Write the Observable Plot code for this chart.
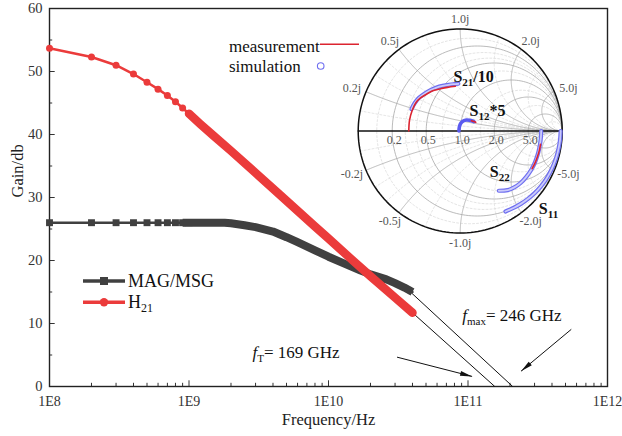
<!DOCTYPE html>
<html><head><meta charset="utf-8">
<script src="https://cdn.jsdelivr.net/npm/d3@7"></script>
<script src="https://cdn.jsdelivr.net/npm/@observablehq/plot@0.6"></script>
<style>
body{margin:0;background:#fff;}
#wrap{position:relative;width:622px;height:436px;overflow:hidden;}
#inset{position:absolute;left:330px;top:8px;}
</style></head>
<body><div id="wrap"><div id="main"></div><div id="inset"></div></div>
<script>
// ---------------- data ----------------
const freqMAG = [1e8,2e8,3e8,4e8,5e8,6e8,7e8,8e8,9e8,1e9,1.2e9,1.5e9,1.8e9,2e9,2.5e9,3e9,4e9,5e9,6e9,8e9,1e10,1.3e10,1.7e10,2e10,2.6e10,3e10,3.5e10,4e10];
const magMSG  = [26.0,26.0,26.0,26.0,26.0,26.0,26.0,26.0,26.0,26.0,26.0,26.0,26.0,25.9,25.6,25.3,24.6,23.7,22.9,21.6,20.6,19.5,18.4,17.8,17.0,16.4,15.7,15.0];
const freqH21 = [1e8,2e8,3e8,4e8,5e8,6e8,7e8,8e8,9e8,1e9,1.2e9,1.5e9,2e9,3e9,4.5e9,6e9,8e9,1e10,1.36e10,2e10,3e10,4e10];
const h21     = [53.7,52.3,51.0,49.6,48.3,47.2,46.2,45.2,44.2,43.3,41.7,39.8,37.4,33.9,30.4,27.9,25.4,23.5,20.8,17.5,14.1,11.7];

// extrapolation lines and arrows (frequency, gain)
const extrapMAG = {f1:3.87e10, v1:15.0, f2:2.09e11, v2:0};
const extrapH21 = {f1:4.02e10, v1:11.67, f2:1.556e11, v2:0};
const arrowFT   = {f1:3.1e10, v1:4.66, f2:1.07e11, v2:1.6};
const arrowFmax = {f1:5.5e11, v1:9.07, f2:2.4e11, v2:2.43};
const annFT     = {f:2.85e9, v:5.4};
const annFmax   = {f:9.1e10, v:11.3};

// axis ticks
const xMajorTicks = [1e8,1e9,1e10,1e11,1e12];
const xMinorMult  = [2,3,4,5,6,7,8,9];
const yMajorTicks = [0,10,20,30,40,50,60];
const yMinorTicks = [5,15,25,35,45,55];

// Smith chart (reflection coefficient, re / im)
const smithRMajor = [0.2,0.5,1,2,5];
const smithXMajor = [0.2,0.5,1,2,5];
const smithRMinor = [0.1,0.3,0.4,0.7,1.5,3,10];
const smithXMinor = [0.1,0.3,0.4,0.7,1.5,3,10];
const smithRLabels = ["0.2","0.5","1.0","2.0","5.0"];
const smithXLabels = ["0.2j","0.5j","1.0j","2.0j","5.0j"];
const smithXLabelsNeg = ["-0.2j","-0.5j","-1.0j","-2.0j","-5.0j"];

const s21Meas = [[-0.504,0],[-0.497,0.103],[-0.471,0.201],[-0.433,0.279],[-0.389,0.324],[-0.324,0.365],[-0.262,0.397],[-0.193,0.414],[-0.125,0.428],[-0.046,0.439]];
const s21Sim  = [[-0.478,0.215],[-0.447,0.272],[-0.404,0.325],[-0.350,0.366],[-0.290,0.401],[-0.231,0.426],[-0.172,0.442],[-0.113,0.453],[-0.063,0.459],[-0.018,0.463]];
const s12Sim  = [[-0.012,0],[-0.008,0.04],[0.006,0.075],[0.03,0.098],[0.06,0.108],[0.09,0.106],[0.12,0.098],[0.135,0.092]];
const s12Meas = [[0.11,0.1],[0.135,0.092],[0.152,0.085]];
const s22Sim  = [[0.794,0],[0.792,-0.05],[0.787,-0.10],[0.775,-0.17],[0.757,-0.24],[0.732,-0.31],[0.697,-0.38],[0.648,-0.45],[0.592,-0.51],[0.530,-0.553],[0.465,-0.58],[0.379,-0.586]];
const s22Meas = [[0.787,-0.13],[0.776,-0.19],[0.758,-0.25],[0.735,-0.31],[0.705,-0.37]];
const s11Sim  = [[0.985,0],[0.979,-0.086],[0.965,-0.170],[0.944,-0.253],[0.915,-0.333],[0.879,-0.410],[0.836,-0.483],[0.785,-0.550],[0.728,-0.611],[0.665,-0.665],[0.598,-0.712],[0.527,-0.752],[0.444,-0.789]];
const smithNames = [
  {re:-0.066, im:0.527, parts:[["S"],["21","sub"],["/10"]]},
  {re:0.091, im:0.201, parts:[["S"],["12","sub"],["*5"]]},
  {re:0.29, im:-0.404, parts:[["S"],["22","sub"]]},
  {re:0.771, im:-0.763, parts:[["S"],["11","sub"]]}
];

// ---------------- styles ----------------
const FONT = "'Liberation Serif','Times New Roman',serif";
const GRAY = "#404040", RED = "#eb3b3b", MRED = "#dc2430", BLUE = "#6f6ff0", LBLUE = "#cbcbfb";
const W = 622, H = 436, ML = 49, MR = 15, MT = 8, MB = 50;

const sx = Plot.scale({x:{type:"log", domain:[1e8,1e12], range:[ML, W-MR]}});
const sy = Plot.scale({y:{domain:[0,60], range:[H-MB, MT]}});
const yMajX2 = sx.invert(ML+5.7), yMinX2 = sx.invert(ML+3.2);
const xMajY2 = sy.invert(H-MB-5.7), xMinY2 = sy.invert(H-MB-3.2);
const xMinorTicks = xMajorTicks.slice(0,-1).flatMap(d => xMinorMult.map(m => d*m));

const magData = freqMAG.map((f,i)=>({f, v:magMSG[i]}));
const h21Data = freqH21.map((f,i)=>({f, v:h21[i]}));
const ang = d => Math.atan2(sx.apply(d.f2)-sx.apply(d.f1), -(sy.apply(d.v2)-sy.apply(d.v1)))*180/Math.PI;

const main = Plot.plot({
  width: W, height: H, marginLeft: ML, marginRight: MR, marginTop: MT, marginBottom: MB,
  x: {type:"log", domain:[1e8,1e12]},
  y: {domain:[0,60]},
  style: {fontFamily: FONT, fontSize: "14px", color: "#333", background: "transparent"},
  marks: [
    Plot.axisX({ticks: xMajorTicks, tickFormat: d => "1E" + Math.round(Math.log10(d)), tickSize: 0, tickPadding: 10, label: null, fontSize: 14}),
    Plot.axisY({ticks: yMajorTicks, tickSize: 0, tickPadding: 7, label: null, fontSize: 14.5}),
    Plot.ruleX(xMajorTicks, {y1: 0, y2: xMajY2, stroke: "#333", strokeWidth: 1}),
    Plot.ruleX(xMinorTicks, {y1: 0, y2: xMinY2, stroke: "#333", strokeWidth: 1}),
    Plot.ruleY(yMajorTicks, {x1: 1e8, x2: yMajX2, stroke: "#333", strokeWidth: 1}),
    Plot.ruleY(yMinorTicks, {x1: 1e8, x2: yMinX2, stroke: "#333", strokeWidth: 1}),
    Plot.frame({stroke: "#222", strokeWidth: 1.4}),
    Plot.text(["Frequency/Hz"], {frameAnchor: "bottom", dy: 38.5, text: d => d, fontSize: 16.5, fill: "#222"}),
    Plot.text(["Gain/db"], {frameAnchor: "left", dx: -32, rotate: -90, text: d => d, fontSize: 16.5, fill: "#222"}),
    // extrapolation lines
    Plot.link([extrapMAG, extrapH21], {x1: "f1", y1: "v1", x2: "f2", y2: "v2", stroke: "#111", strokeWidth: 1}),
    // MAG/MSG
    Plot.line(magData, {x: "f", y: "v", stroke: GRAY, strokeWidth: 2.5}),
    Plot.line(magData.filter(d => d.f >= 9e8), {x: "f", y: "v", stroke: GRAY, strokeWidth: 8, strokeLinecap: "butt", strokeLinejoin: "round"}),
    Plot.dot(magData.filter(d => d.f <= 1e9), {x: "f", y: "v", symbol: "square", r: 3.9, fill: GRAY}),
    // H21
    Plot.line(h21Data, {x: "f", y: "v", stroke: RED, strokeWidth: 2.5}),
    Plot.line(h21Data.filter(d => d.f >= 1e9), {x: "f", y: "v", stroke: RED, strokeWidth: 8.5, strokeLinecap: "round", strokeLinejoin: "round"}),
    Plot.dot(h21Data.filter(d => d.f <= 1e9), {x: "f", y: "v", r: 3.5, fill: RED}),
    // arrows
    Plot.link([arrowFT, arrowFmax], {x1: "f1", y1: "v1", x2: "f2", y2: "v2", stroke: "#111", strokeWidth: 1}),
    Plot.vector([arrowFT, arrowFmax], {x: "f2", y: "v2", rotate: ang, length: 12, r: 2.4, shape: "spike", anchor: "end", fill: "#111", stroke: "none"}),
    // annotations
    Plot.text([annFT], {x: "f", y: "v", text: () => "fT= 169 GHz", textAnchor: "start", fontSize: 17, fill: "#111", ariaDescription: "ann-ft"}),
    Plot.text([annFmax], {x: "f", y: "v", text: () => "fmax= 246 GHz", textAnchor: "start", fontSize: 17, fill: "#111", ariaDescription: "ann-fmax"})
  ]
});
document.getElementById("main").appendChild(main);

function rich(textSel, parts, subSize, subShift) {
  textSel.each(function(){
    const t = d3.select(this); t.text(null);
    let shift = 0;
    parts.forEach(([s, kind]) => {
      const ts = t.append("tspan").text(s);
      if (kind === "i") ts.attr("font-style", "italic");
      const target = kind === "sub" ? subShift : 0;
      if (target !== shift) { ts.attr("dy", target - shift); shift = target; }
      if (kind === "sub") ts.attr("font-size", subSize).attr("font-style", "normal");
    });
  });
}
const msvg = d3.select(main);
rich(msvg.selectAll('g[aria-description="ann-ft"] text'), [["f","i"],["T","sub"],["= 169 GHz"]], 11, 4);
rich(msvg.selectAll('g[aria-description="ann-fmax"] text'), [["f","i"],["max","sub"],["= 246 GHz"]], 11, 4);

// legends
const lg = msvg.append("g").attr("font-family", FONT).attr("fill", "#111").attr("text-anchor", "start");
lg.append("line").attr("x1",83).attr("x2",125).attr("y1",281).attr("y2",281).attr("stroke",GRAY).attr("stroke-width",3.4);
lg.append("rect").attr("x",100).attr("y",277).attr("width",8).attr("height",8).attr("fill",GRAY);
lg.append("text").attr("x",128).attr("y",281).attr("dy","0.35em").attr("font-size",18).text("MAG/MSG");
lg.append("line").attr("x1",83).attr("x2",125).attr("y1",302.3).attr("y2",302.3).attr("stroke",RED).attr("stroke-width",3.4);
lg.append("circle").attr("cx",104).attr("cy",302.3).attr("r",4.2).attr("fill",RED);
const ht = lg.append("text").attr("x",128).attr("y",302).attr("dy","0.35em").attr("font-size",18);
ht.append("tspan").text("H"); ht.append("tspan").attr("font-size",12).attr("dy",4).text("21");
lg.append("text").attr("x",229).attr("y",46).attr("dy","0.35em").attr("font-size",17).text("measurement");
lg.append("line").attr("x1",320).attr("x2",359).attr("y1",44.3).attr("y2",44.3).attr("stroke",MRED).attr("stroke-width",1.5);
lg.append("text").attr("x",229).attr("y",66.5).attr("dy","0.35em").attr("font-size",17).text("simulation");
lg.append("circle").attr("cx",320.7).attr("cy",66).attr("r",3.3).attr("fill","none").attr("stroke",BLUE).attr("stroke-width",1.1);

// ---------------- Smith chart inset ----------------
const G = (a,b) => { const d = (a+1)**2 + b*b; return [(a*a + b*b - 1)/d, 2*b/d]; };
const rCircle = (r, id) => { const c = r/(1+r), R = 1/(1+r); return d3.range(0, 361, 2).map(t => ({re: c + R*Math.cos(t*Math.PI/180), im: R*Math.sin(t*Math.PI/180), id})); };
const xArc = (x, id) => d3.range(0, 1, 0.004).concat([0.999, 0.9999]).map(t => { const [re, im] = G(t/(1-t), x); return {re, im, id}; });
const gridMajor = [...smithRMajor.flatMap(r => rCircle(r, "r"+r)), ...smithXMajor.flatMap(x => [...xArc(x, "x"+x), ...xArc(-x, "x-"+x)])];
const gridMinor = [...smithRMinor.flatMap(r => rCircle(r, "r"+r)), ...smithXMinor.flatMap(x => [...xArc(x, "x"+x), ...xArc(-x, "x-"+x)])];
const unit = rCircle(0, "unit");
const rLab = smithRMajor.map((r,i) => ({re: (r-1)/(r+1), im: 0, t: smithRLabels[i]}));
const xLab = smithXMajor.flatMap((x,i) => {
  const p = G(0, x), q = G(0, -x);
  return [{re: p[0]*1.15, im: p[1]*1.1, t: smithXLabels[i]}, {re: q[0]*1.15, im: q[1]*1.1, t: smithXLabelsNeg[i]}];
});
const pts = a => a.map(([re, im]) => ({re, im}));

const inset = Plot.plot({
  width: 270, height: 240, margin: 0,
  x: {domain: [-1.27157, 1.37549], axis: null},
  y: {domain: [-1.15196, 1.20098], axis: null},
  style: {fontFamily: FONT, background: "transparent", overflow: "visible"},
  marks: [
    Plot.line(gridMinor, {x: "re", y: "im", z: "id", stroke: "#d2d2d2", strokeWidth: 0.6, strokeDasharray: "2,2"}),
    Plot.line(gridMajor, {x: "re", y: "im", z: "id", stroke: "#a8a8a8", strokeWidth: 0.8}),
    Plot.line(unit, {x: "re", y: "im", stroke: "#111", strokeWidth: 1.5}),
    Plot.ruleY([0], {x1: -1, x2: 1, stroke: "#111", strokeWidth: 1.5}),
    Plot.text(rLab, {x: "re", y: "im", text: "t", dx: 2, dy: 9, fontSize: 12, fill: "#555", letterSpacing: "1px"}),
    Plot.text(xLab, {x: "re", y: "im", text: "t", fontSize: 12, fill: "#555", letterSpacing: "0.5px"}),
    // simulations (blue open circles band)
    ...[s21Sim, s12Sim, s22Sim, s11Sim].flatMap((s, i) => i === 1
      ? [Plot.line(pts(s), {x: "re", y: "im", stroke: "#5b5bf0", strokeWidth: 3.6, curve: "catmull-rom", strokeLinecap: "round"})]
      : [Plot.line(pts(s), {x: "re", y: "im", stroke: BLUE, strokeWidth: 4.2, curve: "catmull-rom", strokeLinecap: "round"}),
         Plot.line(pts(s), {x: "re", y: "im", stroke: LBLUE, strokeWidth: 1.8, curve: "catmull-rom", strokeLinecap: "round"})]),
    // measurements (red lines)
    ...[s21Meas, s12Meas, s22Meas].map(s => Plot.line(pts(s), {x: "re", y: "im", stroke: MRED, strokeWidth: 1.6, curve: "catmull-rom"})),
    Plot.text(smithNames, {x: "re", y: "im", text: d => d.parts.map(p => p[0]).join(""), textAnchor: "start", fontSize: 16, fontWeight: "bold", fill: "#111", ariaDescription: "snames"})
  ]
});
document.getElementById("inset").appendChild(inset);
d3.select(inset).selectAll('g[aria-description="snames"] text').each(function(d, i){
  rich(d3.select(this), smithNames[i].parts, 11, 4);
});
</script>
</body></html>
